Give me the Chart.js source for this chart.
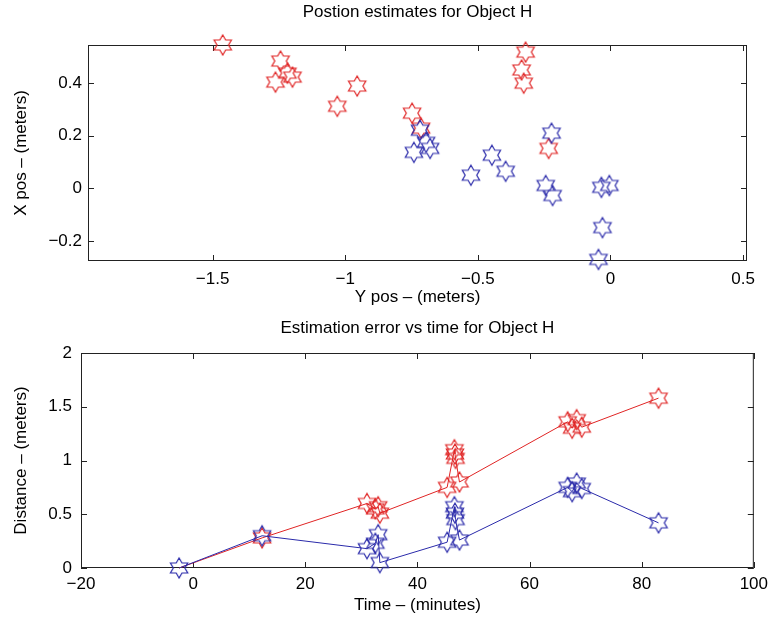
<!DOCTYPE html>
<html>
<head>
<meta charset="utf-8">
<script src="https://cdn.jsdelivr.net/npm/chart.js@4.4.1/dist/chart.umd.min.js"></script>
<style>
    html, body { margin: 0; padding: 0; background: #fff; }
    #topBox { position: absolute; left: 0; top: 0; width: 774px; height: 310px; }
    #bottomBox { position: absolute; left: 0; top: 310px; width: 774px; height: 313px; }
</style>
</head>
<body>
<div id="topBox"><canvas id="posChart"></canvas></div>
<div id="bottomBox"><canvas id="errChart"></canvas></div>
<script>
// Position estimates: horizontal = Y pos, vertical = X pos (meters)
const redPosY  = [-1.462, -1.244, -1.263, -1.218, -1.199, -1.030, -0.955, -0.748, -0.714, -0.320, -0.335, -0.327, -0.233];
const redPosX  = [ 0.545,  0.484,  0.404,  0.438,  0.423,  0.312,  0.389,  0.286,  0.229,  0.518,  0.450,  0.400,  0.152];
const bluePosY = [-0.718, -0.741, -0.695, -0.680, -0.526, -0.447, -0.395, -0.222, -0.244, -0.218, -0.034, -0.004, -0.030, -0.045];
const bluePosX = [ 0.221,  0.137,  0.175,  0.152,  0.050,  0.126,  0.065,  0.210,  0.011, -0.027,  0.004,  0.011, -0.149, -0.270];

// Estimation error vs time
const times    = [-2.5, 12.3, 31.0, 32.5, 33.0, 33.3, 45.3, 46.6, 46.7, 46.8, 47.5, 66.8, 67.6, 68.4, 69.3, 83.0];
const redDist  = [0.00, 0.28, 0.60, 0.55, 0.57, 0.51, 0.75, 1.10, 1.06, 1.02, 0.80, 1.36, 1.30, 1.38, 1.31, 1.58];
const blueDist = [0.00, 0.30, 0.18, 0.23, 0.31, 0.05, 0.24, 0.57, 0.51, 0.45, 0.26, 0.75, 0.71, 0.79, 0.74, 0.42];

// tick labels
const posXTicks  = [-1.5, -1, -0.5, 0, 0.5];
const posYTicks  = [-0.2, 0, 0.2, 0.4];
const timeTicks  = [-20, 0, 20, 40, 60, 80, 100];
const distTicks  = [0, 0.5, 1, 1.5, 2];

const RED = '#e02424';
const BLUE = '#2a2aaa';

Chart.defaults.font.family = "'Liberation Sans', Arial, sans-serif";
Chart.defaults.font.size = 17;
Chart.defaults.color = '#000';

// six-pointed star marker
function hexagram(color) {
    const R = 10, r = R / Math.sqrt(3), s = 24;
    const c = document.createElement('canvas');
    c.width = s; c.height = s;
    const g = c.getContext('2d');
    g.strokeStyle = color;
    g.lineWidth = 1.2;
    g.beginPath();
    for (let i = 0; i < 12; i++) {
        const a = -Math.PI / 2 + i * Math.PI / 6;
        const rad = i % 2 ? r : R;
        g.lineTo(s / 2 + rad * Math.cos(a), s / 2 + rad * Math.sin(a));
    }
    g.closePath();
    g.stroke();
    return c;
}
const redStar = hexagram(RED);
const blueStar = hexagram(BLUE);

function pts(xs, ys) {
    return xs.map((v, i) => ({x: v, y: ys[i]}));
}

function fmt(v) {
    return String(v).replace('-', '\u2212');
}

function fixTicks(list) {
    return function(scale) {
        scale.ticks = list.map(v => ({value: v}));
    };
}

// box round the axes with inward tick marks
const boxPlugin = {
    id: 'box',
    beforeDatasetsDraw(chart) {
        const {ctx, chartArea: a, scales: {x, y}} = chart;
        ctx.save();
        ctx.strokeStyle = '#222';
        ctx.lineWidth = 1;
        ctx.strokeRect(a.left + 0.5, a.top + 0.5, a.right - a.left - 1, a.bottom - a.top - 1);
        ctx.beginPath();
        x.ticks.forEach(t => {
            const px = Math.round(x.getPixelForValue(t.value)) + 0.5;
            ctx.moveTo(px, a.bottom); ctx.lineTo(px, a.bottom - 6);
            ctx.moveTo(px, a.top); ctx.lineTo(px, a.top + 6);
        });
        y.ticks.forEach(t => {
            const py = Math.round(y.getPixelForValue(t.value)) + 0.5;
            ctx.moveTo(a.left, py); ctx.lineTo(a.left + 6, py);
            ctx.moveTo(a.right, py); ctx.lineTo(a.right - 6, py);
        });
        ctx.stroke();
        ctx.restore();
    }
};

function axisX(min, max, ticks, title, height, pad, titlePad) {
    return {
        type: 'linear', min: min, max: max,
        afterBuildTicks: fixTicks(ticks),
        afterFit: s => { s.height = height; },
        grid: {display: false, drawTicks: false},
        border: {display: false},
        ticks: {padding: pad, maxRotation: 0, callback: fmt},
        title: {display: true, text: title, padding: {top: 0, bottom: titlePad}}
    };
}

function axisY(min, max, ticks, title, width, pad) {
    return {
        type: 'linear', min: min, max: max,
        afterBuildTicks: fixTicks(ticks),
        afterFit: s => { s.width = width; },
        grid: {display: false, drawTicks: false},
        border: {display: false},
        ticks: {padding: pad, callback: fmt},
        title: {display: true, text: title, padding: {top: 11, bottom: 0}}
    };
}

// Position estimates
new Chart(document.getElementById('posChart'), {
    type: 'scatter',
    data: {
        datasets: [
            {
                data: pts(bluePosY, bluePosX),
                pointStyle: blueStar, pointRadius: 10,
                borderColor: BLUE, clip: false
            },
            {
                data: pts(redPosY, redPosX),
                pointStyle: redStar, pointRadius: 10,
                borderColor: RED, clip: false
            }
        ]
    },
    options: {
        responsive: true,
        maintainAspectRatio: false,
        animation: false,
        events: [],
        layout: {padding: {left: 0, right: 27, top: 0, bottom: 0}},
        plugins: {
            legend: {display: false},
            tooltip: {enabled: false},
            title: {
                display: true,
                text: 'Postion estimates for Object H',
                fullSize: false,
                font: {size: 17, weight: 'normal'},
                padding: {top: 2, bottom: 22.6}
            }
        },
        scales: {
            x: axisX(-1.97, 0.515, posXTicks, 'Y pos \u2013 (meters)', 49, 8, 2),
            y: axisY(-0.276, 0.545, posYTicks, 'X pos \u2013 (meters)', 88, 6)
        }
    },
    plugins: [boxPlugin]
});

// Error vs time
new Chart(document.getElementById('errChart'), {
    type: 'scatter',
    data: {
        datasets: [
            {
                data: pts(times, blueDist),
                showLine: true, borderWidth: 1,
                pointStyle: blueStar, pointRadius: 10,
                borderColor: BLUE, backgroundColor: 'transparent', clip: false
            },
            {
                data: pts(times, redDist),
                showLine: true, borderWidth: 1,
                pointStyle: redStar,
                // first red marker sits under the blue one
                pointRadius: c => c.dataIndex === 0 ? 0 : 10,
                borderColor: RED, backgroundColor: 'transparent', clip: false
            }
        ]
    },
    options: {
        responsive: true,
        maintainAspectRatio: false,
        animation: false,
        events: [],
        layout: {padding: {left: 0, right: 20, top: 0, bottom: 0}},
        plugins: {
            legend: {display: false},
            tooltip: {enabled: false},
            title: {
                display: true,
                text: 'Estimation error vs time for Object H',
                fullSize: false,
                font: {size: 17, weight: 'normal'},
                padding: {top: 8, bottom: 14.6}
            }
        },
        scales: {
            x: axisX(-20, 100, timeTicks, 'Time \u2013 (minutes)', 55, 6, 7),
            y: axisY(0, 2, distTicks, 'Distance \u2013 (meters)', 81, 9)
        }
    },
    plugins: [boxPlugin]
});
</script>
</body>
</html>
